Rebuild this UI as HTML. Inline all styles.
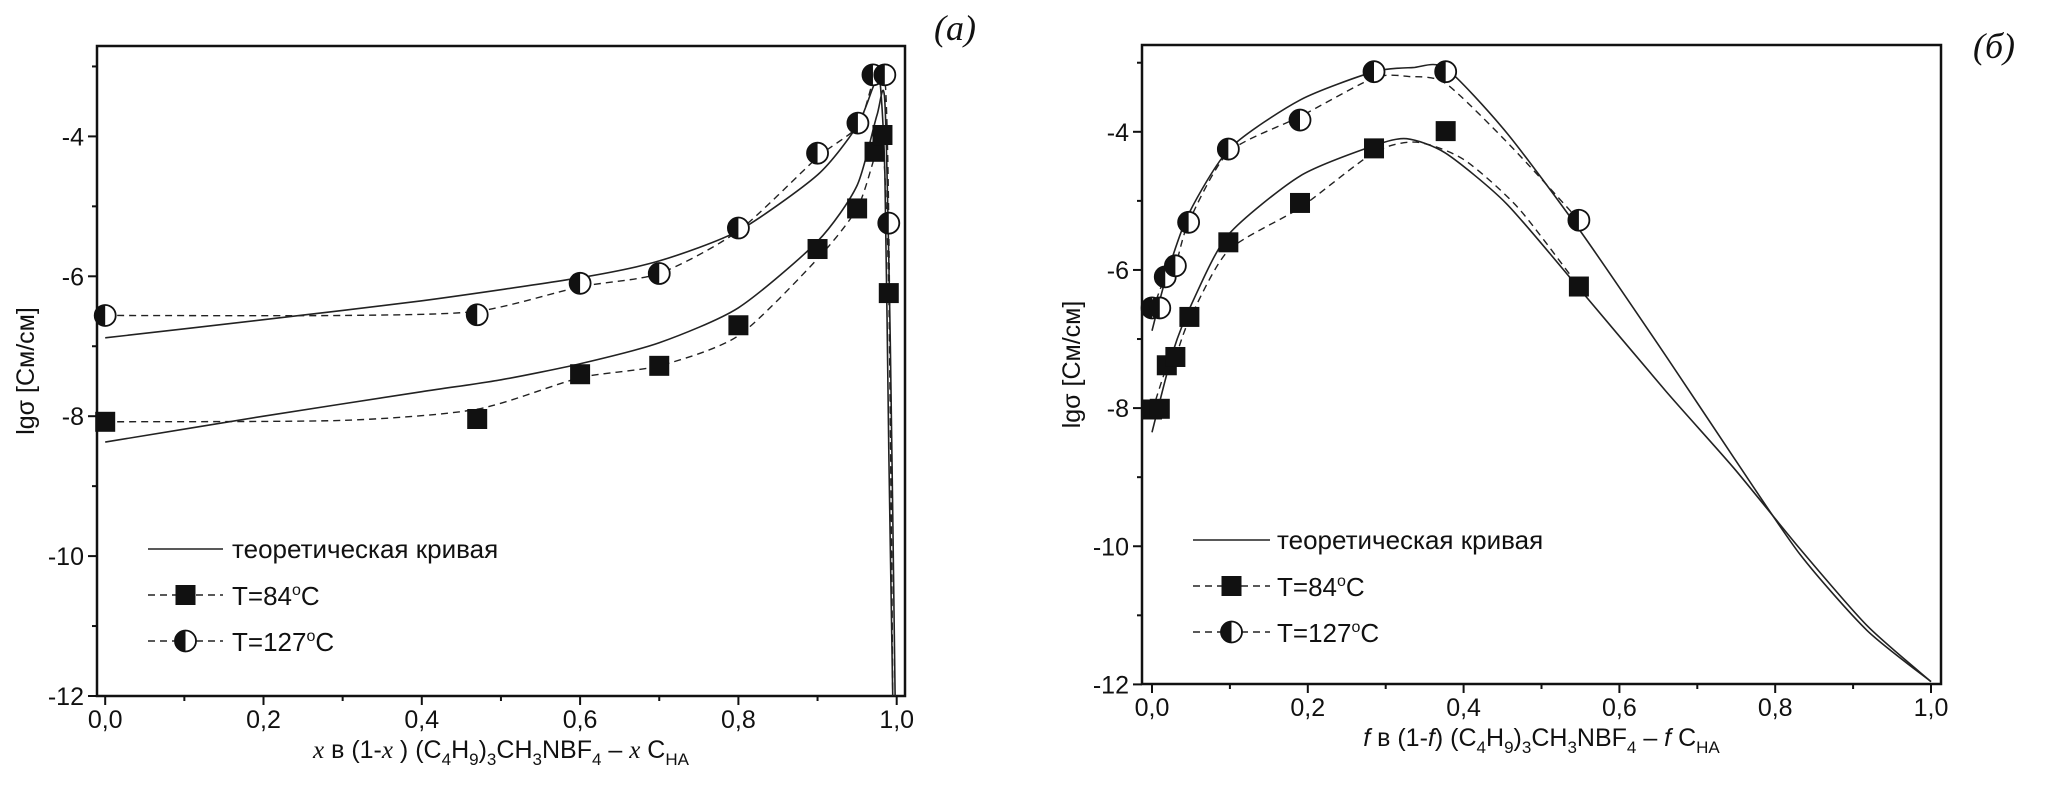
<!DOCTYPE html>
<html><head><meta charset="utf-8">
<style>
html,body{margin:0;padding:0;background:#fff;}
svg{display:block;}
text{font-family:"Liberation Sans",sans-serif;fill:#111;}
</style></head>
<body>
<svg id="chart" width="2046" height="801" viewBox="0 0 2046 801" xmlns="http://www.w3.org/2000/svg"></svg>
<script>
// ---- Panel (a) data ----
const aX84 = [0, 0.47, 0.6, 0.7, 0.8, 0.9, 0.95, 0.972, 0.982, 0.99];
const aY84 = [-8.08, -8.04, -7.40, -7.28, -6.70, -5.61, -5.03, -4.22, -3.98, -6.24];
const aX127 = [0, 0.47, 0.6, 0.7, 0.8, 0.9, 0.951, 0.970, 0.985, 0.99];
const aY127 = [-6.56, -6.55, -6.10, -5.96, -5.31, -4.24, -3.81, -3.12, -3.12, -5.24];
const aDash84X = [0, 0.3, 0.47, 0.6, 0.7, 0.8, 0.9, 0.95, 0.972, 0.982, 0.99, 0.995];
const aDash84Y = [-8.08, -8.06, -7.9, -7.45, -7.28, -6.85, -5.75, -5.03, -4.3, -4.0, -6.24, -12];
const aDash127X = [0, 0.3, 0.47, 0.6, 0.7, 0.8, 0.9, 0.951, 0.972, 0.985, 0.99, 0.995];
const aDash127Y = [-6.56, -6.56, -6.5, -6.15, -5.96, -5.35, -4.3, -3.85, -3.15, -3.15, -5.24, -12];
const aThUpX = [0, 0.2, 0.4, 0.6, 0.7, 0.8, 0.9, 0.95, 0.97, 0.978, 0.985, 0.99, 0.995];
const aThUpY = [-6.88, -6.62, -6.35, -6.02, -5.78, -5.35, -4.55, -3.85, -3.3, -3.12, -4.5, -8.5, -12];
const aThLoX = [0, 0.2, 0.4, 0.5, 0.6, 0.7, 0.8, 0.9, 0.95, 0.975, 0.985, 0.992, 0.998];
const aThLoY = [-8.37, -8.0, -7.65, -7.48, -7.25, -6.95, -6.45, -5.5, -4.7, -3.7, -3.5, -7.0, -12];
// ---- Panel (б) data ----
const bX84 = [0, 0.01, 0.019, 0.03, 0.048, 0.098, 0.19, 0.285, 0.377, 0.548];
const bY84 = [-8.02, -8.01, -7.38, -7.26, -6.68, -5.60, -5.03, -4.24, -3.99, -6.24];
const bX127 = [0, 0.01, 0.017, 0.03, 0.047, 0.098, 0.19, 0.285, 0.377, 0.548];
const bY127 = [-6.55, -6.55, -6.10, -5.94, -5.31, -4.25, -3.83, -3.13, -3.13, -5.28];
const bDash84X = [0, 0.019, 0.03, 0.048, 0.098, 0.19, 0.285, 0.34, 0.4, 0.47, 0.548];
const bDash84Y = [-8.05, -7.4, -7.26, -6.72, -5.72, -5.1, -4.3, -4.15, -4.4, -5.1, -6.24];
const bDash127X = [0, 0.017, 0.03, 0.047, 0.098, 0.19, 0.285, 0.33, 0.377, 0.46, 0.548];
const bDash127Y = [-6.6, -6.1, -5.94, -5.31, -4.3, -3.78, -3.22, -3.2, -3.3, -4.2, -5.28];
const bThUpX = [0, 0.019, 0.047, 0.1, 0.19, 0.285, 0.335, 0.377, 0.455, 0.55, 0.66, 0.747, 0.832, 0.918, 1.0];
const bThUpY = [-6.88, -6.07, -5.19, -4.24, -3.54, -3.13, -3.07, -3.08, -4.01, -5.44, -7.25, -8.72, -10.12, -11.22, -11.96];
const bThLoX = [0, 0.027, 0.053, 0.098, 0.19, 0.285, 0.327, 0.377, 0.455, 0.55, 0.66, 0.747, 0.832, 0.918, 1.0];
const bThLoY = [-8.35, -7.18, -6.44, -5.49, -4.64, -4.2, -4.1, -4.31, -5.04, -6.29, -7.76, -8.87, -10.04, -11.15, -11.96];
const xTickLabels = ["0,0","0,2","0,4","0,6","0,8","1,0"];
const yTickLabels = ["-4","-6","-8","-10","-12"];
const xTickVals = [0,0.2,0.4,0.6,0.8,1.0];
const yTickVals = [-4,-6,-8,-10,-12];

const NS="http://www.w3.org/2000/svg";
const svg=document.getElementById('chart');
function mk(tag,attrs,parent){const e=document.createElementNS(NS,tag);for(const k in attrs)e.setAttribute(k,attrs[k]);(parent||svg).appendChild(e);return e;}

function smoothPath(pts){
  let d=`M${pts[0][0]},${pts[0][1]}`;
  for(let i=0;i<pts.length-1;i++){
    const p0=pts[Math.max(0,i-1)],p1=pts[i],p2=pts[i+1],p3=pts[Math.min(pts.length-1,i+2)];
    const t=0.12;
    const c1=[p1[0]+(p2[0]-p0[0])*t,p1[1]+(p2[1]-p0[1])*t];
    const c2=[p2[0]-(p3[0]-p1[0])*t,p2[1]-(p3[1]-p1[1])*t];
    d+=` C${c1[0]},${c1[1]} ${c2[0]},${c2[1]} ${p2[0]},${p2[1]}`;
  }
  return d;
}

function panel(cfg){
  const g=mk('g',{});
  
  
  const sx=v=>cfg.x0+(v-0)*(cfg.x1-cfg.x0)/1.0;
  const sy=v=>cfg.yA+(v-(-4))*(cfg.yB-cfg.yA)/(-8);
  const fr=mk('rect',{x:cfg.L,y:cfg.T,width:cfg.R-cfg.L,height:cfg.B-cfg.T,fill:'none',stroke:'#111','stroke-width':2.5},g);
  
  
  for(let i=0;i<=10;i++){
    const v=i/10, x=sx(v), major=i%2===0;
    const t=mk('line',{x1:x,y1:cfg.B,x2:x,y2:cfg.B+(major?9:5),stroke:'#111','stroke-width':2},g);
    
    
  }
  xTickVals.forEach((v,i)=>{
    const t=mk('text',{x:sx(v),y:cfg.B+32,'font-size':25,'text-anchor':'middle'},g);
    t.textContent=xTickLabels[i];
    
    
  });
  for(let v=-12;v<=-3;v++){
    const y=sy(v), major=v%2===0;
    const t=mk('line',{x1:cfg.L,y1:y,x2:cfg.L-(major?9:5),y2:y,stroke:'#111','stroke-width':2},g);
    
    
  }
  yTickVals.forEach((v,i)=>{
    const t=mk('text',{x:cfg.L-13,y:sy(v)+9,'font-size':25,'text-anchor':'end'},g);
    t.textContent=yTickLabels[i];
    
    
  });
  const yt=mk('text',{x:0,y:0,'font-size':25,'text-anchor':'middle',transform:`translate(${cfg.ytX},${(cfg.T+cfg.B)/2}) rotate(-90)`},g);
  yt.textContent='lgσ [См/см]';
  
  
  const xt=mk('text',{x:(cfg.L+cfg.R)/2,y:cfg.B+62,'font-size':25,'text-anchor':'middle'},g);
  xt.innerHTML=cfg.xtitle;
  
  
  const pl=mk('text',{x:cfg.lblX,y:cfg.lblY,'font-size':36,'font-style':'italic','text-anchor':'middle',style:'font-family:"Liberation Serif",serif'},g);
  pl.textContent=cfg.lbl;
  
  
  [[cfg.thUpX,cfg.thUpY],[cfg.thLoX,cfg.thLoY]].forEach(([xs,ys])=>{
    const p=mk('path',{d:smoothPath(xs.map((v,i)=>[sx(v),sy(ys[i])])),fill:'none',stroke:'#222','stroke-width':1.6},g);
    
    
  });
  [[cfg.d84x,cfg.d84y],[cfg.d127x,cfg.d127y]].forEach(([xs,ys])=>{
    const p=mk('path',{d:smoothPath(xs.map((v,i)=>[sx(v),sy(ys[i])])),fill:'none',stroke:'#222','stroke-width':1.4,'stroke-dasharray':'7,5'},g);
    
    
  });
  function square(x,y,parent){const s=mk('rect',{x:x-10,y:y-10,width:20,height:20,fill:'#111'},parent);return s;}
  function half(x,y,parent){
    const hg=mk('g',{},parent);
    mk('circle',{cx:x,cy:y,r:10.5,fill:'#fff',stroke:'#111','stroke-width':1.8},hg);
    mk('path',{d:`M${x},${y-10.5} A10.5,10.5 0 0 0 ${x},${y+10.5} Z`,fill:'#111'},hg);
    return hg;
  }
  cfg.x84.forEach((v,i)=>{const m=square(sx(v),sy(cfg.y84[i]),g);
    
    });
  cfg.x127.forEach((v,i)=>{const m=half(sx(v),sy(cfg.y127[i]),g);
    
    });
  const lg=mk('g',{},g);
  
  
  const ly=cfg.legY, lx0=cfg.legX0, lx1=cfg.legX1, tx=cfg.legTX, dy=46;
  mk('line',{x1:lx0,y1:ly,x2:lx1,y2:ly,stroke:'#222','stroke-width':1.6},lg);
  const l1=mk('text',{x:tx,y:ly+9,'font-size':26},lg);l1.textContent='теоретическая кривая';
  
  
  mk('line',{x1:lx0,y1:ly+dy,x2:lx1,y2:ly+dy,stroke:'#222','stroke-width':1.4,'stroke-dasharray':'7,5'},lg);
  square((lx0+lx1)/2,ly+dy,lg);
  const l2=mk('text',{x:tx,y:ly+dy+10,'font-size':26},lg);l2.innerHTML='T=84<tspan dy="-10" font-size="16">o</tspan><tspan dy="10">C</tspan>';
  
  
  mk('line',{x1:lx0,y1:ly+2*dy,x2:lx1,y2:ly+2*dy,stroke:'#222','stroke-width':1.4,'stroke-dasharray':'7,5'},lg);
  half((lx0+lx1)/2,ly+2*dy,lg);
  const l3=mk('text',{x:tx,y:ly+2*dy+10,'font-size':26},lg);l3.innerHTML='T=127<tspan dy="-10" font-size="16">o</tspan><tspan dy="10">C</tspan>';
  
  
}

const sub=(s)=>`<tspan dy="7" font-size="17">${s}</tspan><tspan dy="-7">`;
panel({name:'panel-a',L:97,R:905,T:46,B:696,x0:105.2,x1:896.7,yA:136.4,yB:696,ytX:34,
  xtitle:`<tspan font-style="italic" style='font-family:"Liberation Serif",serif'>x</tspan>  в (1-<tspan font-style="italic" style='font-family:"Liberation Serif",serif'>x</tspan> ) (C${sub('4')}H${sub('9')})${sub('3')}CH${sub('3')}NBF${sub('4')} – <tspan font-style="italic" style='font-family:"Liberation Serif",serif'>x</tspan>  C<tspan dy="7" font-size="17">НА</tspan></tspan></tspan></tspan></tspan></tspan>`,
  lbl:'(a)',lblX:955,lblY:40,
  x84:aX84,y84:aY84,x127:aX127,y127:aY127,d84x:aDash84X,d84y:aDash84Y,d127x:aDash127X,d127y:aDash127Y,
  thUpX:aThUpX,thUpY:aThUpY,thLoX:aThLoX,thLoY:aThLoY,
  legY:549,legX0:148,legX1:223,legTX:232});
panel({name:'panel-b',L:1142,R:1941,T:45,B:684,x0:1152,x1:1931,yA:131.8,yB:684.4,ytX:1080,
  xtitle:`<tspan font-style="italic">f</tspan> в (1-<tspan font-style="italic">f</tspan>) (C${sub('4')}H${sub('9')})${sub('3')}CH${sub('3')}NBF${sub('4')} – <tspan font-style="italic">f</tspan> C<tspan dy="7" font-size="17">НА</tspan></tspan></tspan></tspan></tspan></tspan>`,
  lbl:'(б)',lblX:1994,lblY:58,
  x84:bX84,y84:bY84,x127:bX127,y127:bY127,d84x:bDash84X,d84y:bDash84Y,d127x:bDash127X,d127y:bDash127Y,
  thUpX:bThUpX,thUpY:bThUpY,thLoX:bThLoX,thLoY:bThLoY,
  legY:540,legX0:1193,legX1:1270,legTX:1277});
</script>
</body></html>
